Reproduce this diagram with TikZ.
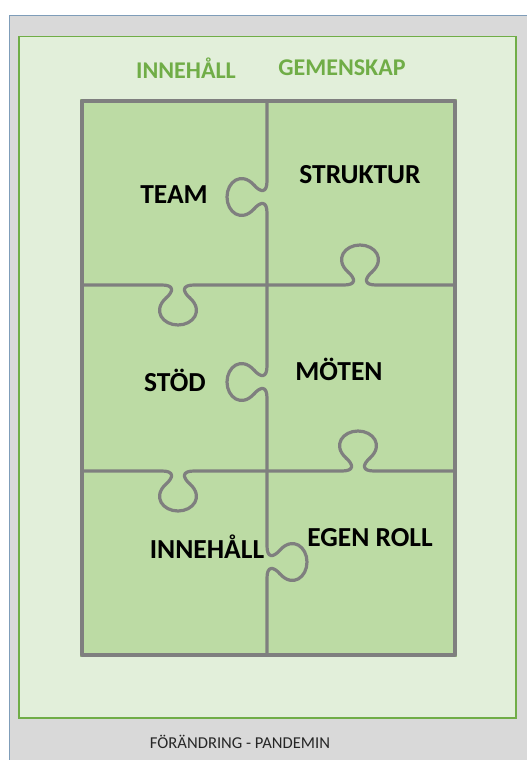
\documentclass[tikz,border=0pt]{standalone}
\usepackage{fontspec}
\setmainfont{Carlito}
\definecolor{panelgray}{HTML}{D9D9D9}
\definecolor{panelblue}{HTML}{7F9DB9}
\definecolor{lightgreen}{HTML}{E2EFDA}
\definecolor{midgreen}{HTML}{BCDBA4}
\definecolor{accgreen}{HTML}{70AD47}
\definecolor{edgegray}{HTML}{7F7F7F}
\newcommand\hknob[3]{-- ({#1-16},#2) .. controls ({#1-4},#2) and ({#1-4},{#2+#3*6}) .. ({#1-12},{#2+#3*13}) .. controls ({#1-26},{#2+#3*26}) and ({#1-15},{#2+#3*40}) .. (#1,{#2+#3*40}) .. controls ({#1+15},{#2+#3*40}) and ({#1+26},{#2+#3*26}) .. ({#1+12},{#2+#3*13}) .. controls ({#1+4},{#2+#3*6}) and ({#1+4},#2) .. ({#1+16},#2)}
\newcommand\vknob[3]{-- (#2,{#1-16}) .. controls (#2,{#1-4}) and ({#2+#3*6},{#1-4}) .. ({#2+#3*13},{#1-12}) .. controls ({#2+#3*26},{#1-26}) and ({#2+#3*40},{#1-15}) .. ({#2+#3*40},#1) .. controls ({#2+#3*40},{#1+15}) and ({#2+#3*26},{#1+26}) .. ({#2+#3*13},{#1+12}) .. controls ({#2+#3*6},{#1+4}) and (#2,{#1+4}) .. (#2,{#1+16})}
\begin{document}
\begin{tikzpicture}[x=1pt,y=-1pt,
  puz/.style={draw=edgegray,line width=3.2pt,line join=round,line cap=round},
  lbl/.style={font=\fontsize{27.5}{32}\selectfont\bfseries,text=black},
  hdr/.style={font=\fontsize{24}{28}\selectfont\bfseries,text=accgreen},
  foot/.style={font=\fontsize{16.6}{20}\selectfont,text=black!85}]
\useasboundingbox (0,0) rectangle (527,760);
\fill[white] (0,0) rectangle (527,760);
\fill[panelgray] (9,15) rectangle (527,760);
\draw[panelblue,line width=1pt] (9.5,760) -- (9.5,15.5) -- (527,15.5);
\draw[fill=lightgreen,draw=accgreen,line width=1.2pt] (19,36.5) rectangle (516,718);
\draw[fill=midgreen,draw=accgreen!70,line width=1pt] (80.5,99.5) rectangle (456.5,656.5);
\draw[puz] (82,101) rectangle (455,655);
\draw[puz] (267,101) \vknob{197}{267}{-1} \vknob{382}{267}{-1} \vknob{562}{267}{1} -- (267,655);
\draw[puz] (82,285) \hknob{178}{285}{1} \hknob{360}{285}{-1} -- (455,285);
\draw[puz] (82,471) \hknob{178}{471}{1} \hknob{358}{471}{-1} -- (455,471);
\node[hdr] (h1) at (186,68) {INNEHÅLL};
\node[hdr] (h2) at (342,68) {GEMENSKAP};
\node[lbl] (team) at (174,195) {TEAM};
\node[lbl] (struktur) at (360,175) {STRUKTUR};
\node[lbl] (stod) at (175,380) {STÖD};
\node[lbl] (moten) at (339,369) {MÖTEN};
\node[lbl] (innehall) at (207,547) {INNEHÅLL};
\node[lbl] (egen) at (370,538) {EGEN ROLL};
\node[foot] (f) at (240,742) {FÖRÄNDRING - PANDEMIN};
\end{tikzpicture}
\end{document}
